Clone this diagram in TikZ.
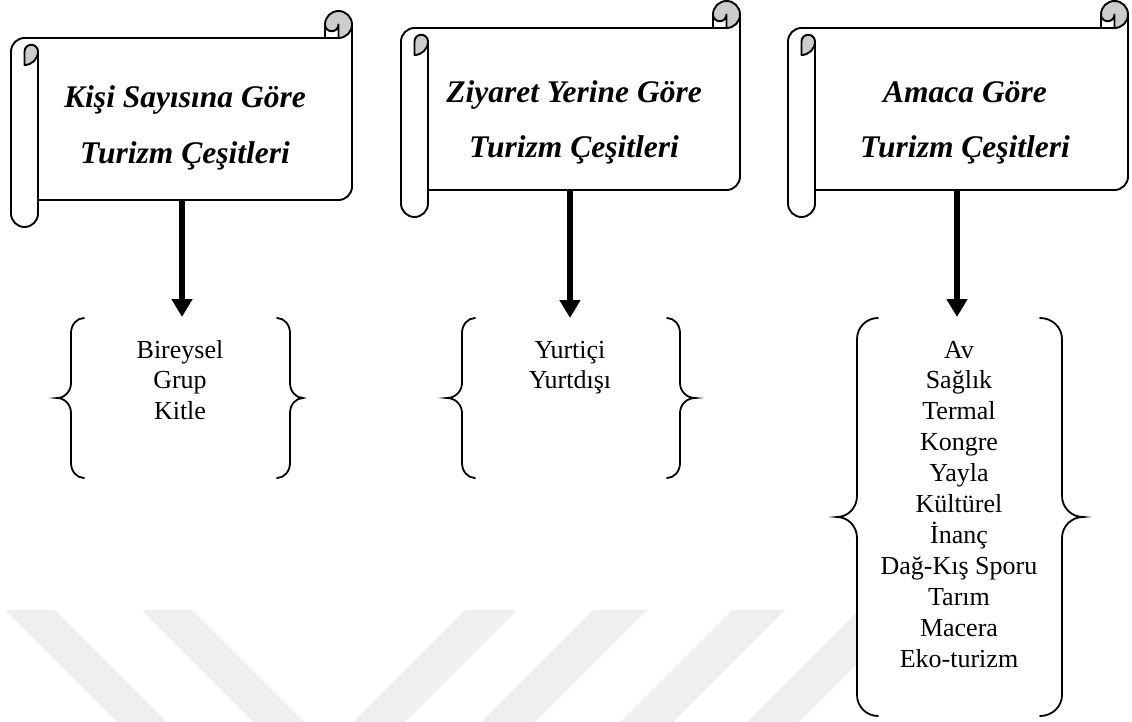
\documentclass[tikz,border=0pt]{standalone}
\usepackage{fontspec}
\setmainfont{Liberation Serif}
\usetikzlibrary{arrows.meta}

\definecolor{curl}{RGB}{204,204,204}
\definecolor{wm}{RGB}{239,239,239}

\tikzset{
  scrollline/.style={line width=1.9pt, line join=round, line cap=round},
  braceline/.style={line width=1.8pt, line cap=round},
  bigarrow/.style={line width=6pt, -{Triangle[width=20pt,length=18pt]}},
  title/.style={font=\fontsize{31.5}{36}\selectfont\bfseries\itshape, anchor=base, inner sep=0pt},
  item/.style={font=\fontsize{26}{30}\selectfont, anchor=base, inner sep=0pt},
  band/.style={fill=wm, draw=none}
}

% horizontal scroll: left, top, right, bottom (roll size 27)
\newcommand{\drawscroll}[4]{%
  \pgfmathsetmacro{\sL}{#1}%
  \pgfmathsetmacro{\sT}{#2}%
  \pgfmathsetmacro{\sR}{#3}%
  \pgfmathsetmacro{\sB}{#4}%
  \pgfmathsetmacro{\yT}{\sT+27}%
  \pgfmathsetmacro{\yC}{\sT+13.5}%
  \pgfmathsetmacro{\yiii}{\sT+40.5}%
  \pgfmathsetmacro{\yiv}{\sT+54}%
  \pgfmathsetmacro{\yvi}{\sB-27}%
  \pgfmathsetmacro{\yvii}{\sB-13.5}%
  \pgfmathsetmacro{\yv}{\sB-40.5}%
  \pgfmathsetmacro{\xiii}{\sR-27}%
  \pgfmathsetmacro{\xiv}{\sR-13.5}%
  % paper
  \fill[white] (\sL+13.5,\yT) -- (\xiv,\yT) -- (\sR,\yC) -- (\sR,\yvi) -- (\sL+27,\yvi) -- cycle;
  % right roll end
  \fill[curl] (\xiv,\yC) circle[radius=13.5];
  \filldraw[scrollline, fill=white] (\xiii,\yC) arc[start angle=180,end angle=0,radius=6.75]
    -- (\xiv,\yT) -- (\xiii,\yT) -- cycle;
  \draw[scrollline] (\xiii,\yC) arc[start angle=180,end angle=360,radius=13.5]
    -- (\sR,\yv) arc[start angle=0,end angle=90,radius=13.5] -- (\sL+27,\yvi);
  \draw[scrollline] (\sR,\yC) arc[start angle=0,end angle=90,radius=13.5];
  % left roll
  \draw[scrollline] (\sL+27,\yiii) -- (\sL+27,\yvii) arc[start angle=0,end angle=180,radius=13.5]
    -- (\sL,\yiii) arc[start angle=180,end angle=270,radius=13.5] -- (\xiv,\yT);
  \filldraw[scrollline, fill=curl] (\sL+13.5,\yiv) arc[start angle=90,end angle=0,radius=13.5]
    arc[start angle=0,end angle=-180,radius=6.75] -- cycle;
}

% curly braces: end x, stem x, tip x, top, bottom, corner height
\newcommand{\leftcurly}[6]{%
  \pgfmathsetmacro{\bm}{(#4+#5)/2}%
  \pgfmathsetmacro{\ra}{#1-#2}%
  \pgfmathsetmacro{\rb}{#2-#3}%
  \draw[braceline] (#1,#4) arc[start angle=270,end angle=180,x radius=\ra,y radius=#6]
    -- (#2,\bm-#6) arc[start angle=0,end angle=90,x radius=\rb,y radius=#6]
    arc[start angle=270,end angle=360,x radius=\rb,y radius=#6]
    -- (#2,#5-#6) arc[start angle=180,end angle=90,x radius=\ra,y radius=#6];
}
\newcommand{\rightcurly}[6]{%
  \pgfmathsetmacro{\bm}{(#4+#5)/2}%
  \pgfmathsetmacro{\ra}{#2-#1}%
  \pgfmathsetmacro{\rb}{#3-#2}%
  \draw[braceline] (#1,#4) arc[start angle=270,end angle=360,x radius=\ra,y radius=#6]
    -- (#2,\bm-#6) arc[start angle=180,end angle=90,x radius=\rb,y radius=#6]
    arc[start angle=270,end angle=180,x radius=\rb,y radius=#6]
    -- (#2,#5-#6) arc[start angle=0,end angle=90,x radius=\ra,y radius=#6];
}

\begin{document}
\begin{tikzpicture}[x=1pt,y=-1pt]
\useasboundingbox (0,0) rectangle (1132,722);

% background watermark bands
\begin{scope}
  \clip (0,0) rectangle (1132,722);
  \path[band] (5,610) -- (55,610) -- (185,740) -- (135,740) -- cycle;
  \path[band] (142,610) -- (192,610) -- (322,740) -- (272,740) -- cycle;
  \path[band] (465,610) -- (517,610) -- (387,740) -- (335,740) -- cycle;
  \path[band] (593,610) -- (647,610) -- (517,740) -- (463,740) -- cycle;
  \path[band] (732,610) -- (785,610) -- (655,740) -- (602,740) -- cycle;
  \path[band] (859,610) -- (911,610) -- (781,740) -- (729,740) -- cycle;
\end{scope}

% scrolls
\drawscroll{11}{11}{352}{227}
\drawscroll{401}{1}{740}{217}
\drawscroll{788}{1}{1128}{217}

\node[title] (t1a) at (185,108) {Kişi Sayısına Göre};
\node[title] (t1b) at (185,164) {Turizm Çeşitleri};
\node[title] (t2a) at (574,103) {Ziyaret Yerine Göre};
\node[title] (t2b) at (574,158) {Turizm Çeşitleri};
\node[title] (t3a) at (965,103) {Amaca Göre};
\node[title] (t3b) at (965,158) {Turizm Çeşitleri};

% list areas
\fill[white] (857,318) rectangle (1062,716);
\leftcurly{84}{71}{57}{318}{478}{15}
\rightcurly{277}{290}{303}{318}{478}{15}
\leftcurly{475}{462}{447}{318}{478}{15}
\rightcurly{667}{680}{695}{318}{478}{15}
\leftcurly{878}{857}{837}{318}{716}{21}
\rightcurly{1040}{1062}{1083}{318}{716}{21}

\foreach \w [count=\i] in {Bireysel,Grup,Kitle}
  \node[item] (ka\i) at (180,{358+30.6*(\i-1)}) {\w};
\foreach \w [count=\i] in {Yurtiçi,Yurtdışı}
  \node[item] (kb\i) at (570,{358+30.6*(\i-1)}) {\w};
\foreach \w [count=\i] in {Av,Sağlık,Termal,Kongre,Yayla,Kültürel,İnanç,Dağ-Kış Sporu,Tarım,Macera,Eko-turizm}
  \node[item] (kc\i) at (959,{358+30.9*(\i-1)}) {\w};

% connectors
\coordinate (s1) at (182,200);
\coordinate (s2) at (570,190);
\coordinate (s3) at (957,190);
\coordinate (l1) at (182,317);
\coordinate (l2) at (570,318);
\coordinate (l3) at (957,317);
\draw[bigarrow] (s1) -- (l1);
\draw[bigarrow] (s2) -- (l2);
\draw[bigarrow] (s3) -- (l3);
\end{tikzpicture}
\end{document}
